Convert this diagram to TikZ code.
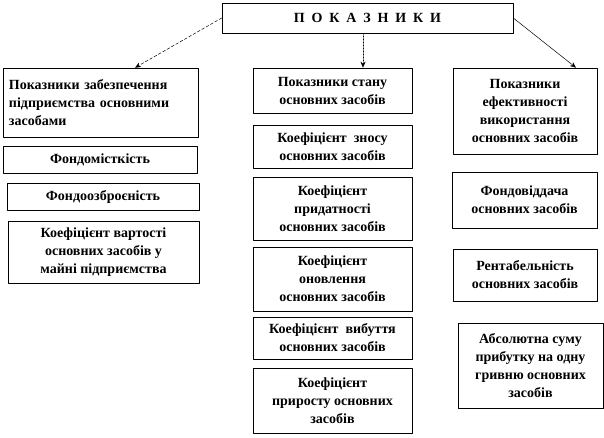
\documentclass[tikz,border=0pt]{standalone}
\usepackage{fontspec}
\setmainfont{Liberation Serif}
\newfontfamily\spacedfont[LetterSpace=24]{Liberation Serif}
\usepackage{tikz}
\usetikzlibrary{arrows.meta,calc,positioning,shadows}
\tikzset{
  box/.style={draw, line width=0.6pt, fill=white, inner sep=2pt, align=center,
    font=\bfseries\fontsize{14}{18}\selectfont,
    drop shadow={shadow xshift=1pt, shadow yshift=-1pt, fill=black!40, opacity=1}},
  link/.style={line width=0.5pt, -{Stealth[length=6pt,width=5pt]}},
  every picture/.style={line cap=round, line join=round}
}

\begin{document}
\begin{tikzpicture}[x=1pt, y=-1pt]
  \useasboundingbox (0,0) rectangle (604,437);
  \node[box, minimum width=291pt, minimum height=30pt] (top) at (367.5,18)
    {\spacedfont\bfseries П О К А З Н И К И};
  % left column
  \node[box, minimum width=195pt, minimum height=69pt, text width=183pt, align=left] (l1) at (100.5,102.5)
    {Показники забезпечення\\підприємства основними\\засобами};
  \node[box, minimum width=194pt, minimum height=27pt] (l2) at (100,159.5) {Фондомісткість};
  \node[box, minimum width=192pt, minimum height=27pt] (l3) at (103,196.5) {Фондоозброєність};
  \node[box, minimum width=191pt, minimum height=62pt] (l4) at (103.5,252)
    {Коефіцієнт вартості\\основних засобів у\\майні підприємства};
  % middle column
  \node[box, minimum width=159pt, minimum height=45pt] (m1) at (332.5,90.5)
    {Показники стану\\основних засобів};
  \node[box, minimum width=159pt, minimum height=43pt] (m2) at (332.5,146.5)
    {Коефіцієнт \ зносу\\основних засобів};
  \node[box, minimum width=159pt, minimum height=63pt] (m3) at (332.5,208.5)
    {Коефіцієнт\\придатності\\основних засобів};
  \node[box, minimum width=159pt, minimum height=64pt] (m4) at (332.5,279)
    {Коефіцієнт\\оновлення\\основних засобів};
  \node[box, minimum width=159pt, minimum height=42pt] (m5) at (332.5,338)
    {Коефіцієнт \ вибуття\\основних засобів};
  \node[box, minimum width=159pt, minimum height=65pt] (m6) at (332.5,400.5)
    {Коефіцієнт\\приросту основних\\засобів};
  % right column
  \node[box, minimum width=144pt, minimum height=86pt] (r1) at (525,111)
    {Показники\\ефективності\\використання\\основних засобів};
  \node[box, minimum width=145pt, minimum height=56pt] (r2) at (524.5,200)
    {Фондовіддача\\основних засобів};
  \node[box, minimum width=144pt, minimum height=52pt] (r3) at (525,275)
    {Рентабельність\\основних засобів};
  \node[box, minimum width=145pt, minimum height=85pt] (r4) at (530.5,365.5)
    {Абсолютна суму\\прибутку на одну\\гривню основних\\засобів};
  % arrows
  \draw[link, densely dashed] (top.west) -- ([xshift=34.5pt]l1.north);
  \draw[link, densely dotted] ([xshift=-4.5pt]top.south) -- ([xshift=-4.5pt]top.south |- m1.north);
  \draw[link] (top.east) -- ([xshift=51pt]r1.north);
\end{tikzpicture}
\end{document}
